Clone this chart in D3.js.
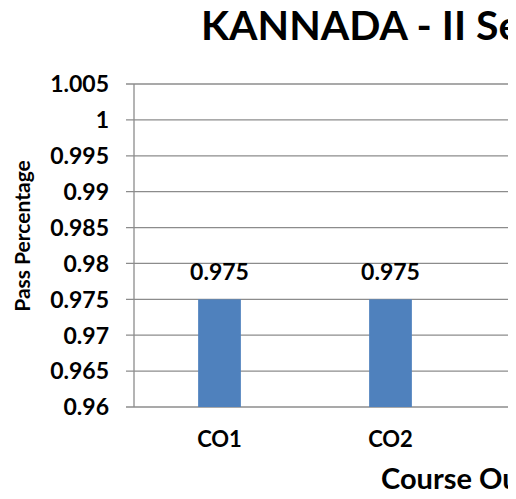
<!DOCTYPE html>
<html>
<head>
<meta charset="utf-8">
<script src="https://cdn.jsdelivr.net/npm/d3@7"></script>
<style>
  body { margin: 0; background: #fff; }
  text { font-family: Lato, "Open Sans", sans-serif; font-weight: bold; fill: #000; }
</style>
</head>
<body>
<svg id="chart" width="516" height="499"></svg>
<script>
// chart data (only the part that is visible in the original)
const categories = ["CO1", "CO2"];
const passValues = [0.975, 0.975];
const yTicks = [0.96, 0.965, 0.97, 0.975, 0.98, 0.985, 0.99, 0.995, 1, 1.005];
const chartTitle = "KANNADA - II Se";
const xTitle = "Course Ou";
const yTitle = "Pass Percentage";

const svg = d3.select("svg#chart");
const margin = {top: 84, left: 134, bottom: 92};
const plotHeight = 499 - margin.top - margin.bottom;
const bandStep = 171;
const visibleRight = 508;

// the original is cut off on the right, so clip everything there
svg.append("defs").append("clipPath").attr("id", "cut")
    .append("rect").attr("x", 0).attr("y", 0).attr("width", visibleRight).attr("height", 499);
const root = svg.append("g").attr("clip-path", "url(#cut)");

const x = d3.scaleBand().domain(categories).range([margin.left, margin.left + bandStep * categories.length]);
const y = d3.scaleLinear().domain([0.96, 1.005]).range([margin.top + plotHeight, margin.top]);

// gridlines
root.selectAll("line.grid")
    .data(yTicks)
    .join("line")
    .attr("class", "grid")
    .attr("x1", margin.left - 8)
    .attr("x2", visibleRight)
    .attr("y1", d => y(d))
    .attr("y2", d => y(d))
    .style("stroke", "#8c8c8c")
    .style("stroke-width", 1.3);

// y axis line
root.append("line")
    .attr("x1", margin.left).attr("x2", margin.left)
    .attr("y1", y(1.005)).attr("y2", y(0.96))
    .style("stroke", "#8c8c8c")
    .style("stroke-width", 1.3);

// tick labels
root.selectAll("text.ytick")
    .data(yTicks)
    .join("text")
    .attr("class", "ytick")
    .attr("x", 109)
    .attr("y", d => y(d))
    .attr("dy", "0.36em")
    .attr("text-anchor", "end")
    .style("font-size", "23px")
    .text(d => d3.format("")(d));

// bars
const barWidth = x.bandwidth() * 0.25;
root.selectAll("rect.bar")
    .data(passValues)
    .join("rect")
    .attr("class", "bar")
    .attr("x", (d, i) => x(categories[i]) + (x.bandwidth() - barWidth) / 2)
    .attr("y", d => y(d))
    .attr("width", barWidth)
    .attr("height", d => y(0.96) - y(d))
    .style("fill", "#4f81bd");

// data labels
root.selectAll("text.label")
    .data(passValues)
    .join("text")
    .attr("class", "label")
    .attr("x", (d, i) => x(categories[i]) + x.bandwidth() / 2)
    .attr("y", d => y(d) - 19)
    .attr("text-anchor", "middle")
    .style("font-size", "23px")
    .text(d => d);

// category labels
root.selectAll("text.cat")
    .data(categories)
    .join("text")
    .attr("class", "cat")
    .attr("x", d => x(d) + x.bandwidth() / 2)
    .attr("y", 447)
    .attr("text-anchor", "middle")
    .style("font-size", "22px")
    .text(d => d);

// titles
root.append("text")
    .attr("x", 201)
    .attr("y", 40)
    .style("font-size", "41px")
    .text(chartTitle);

root.append("text")
    .attr("x", 381)
    .attr("y", 489)
    .style("font-size", "29px")
    .text(xTitle);

root.append("text")
    .attr("transform", "translate(30,236) rotate(-90)")
    .attr("text-anchor", "middle")
    .style("font-size", "21px")
    .text(yTitle);
</script>
</body>
</html>
